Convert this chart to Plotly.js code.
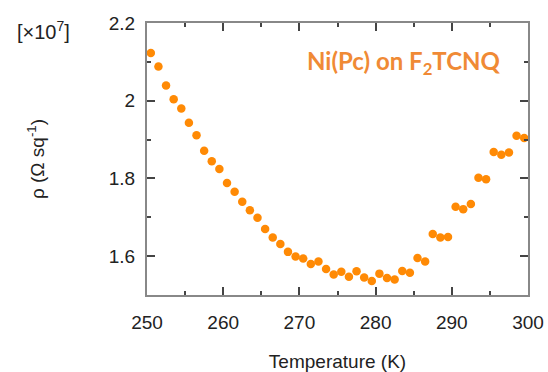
<!DOCTYPE html>
<html>
<head>
<meta charset="utf-8">
<script src="https://cdn.plot.ly/plotly-3.0.1.min.js"></script>
<style>html,body{margin:0;padding:0;background:#fff;}#chart{width:548px;height:372px;}</style>
</head>
<body>
<div id="chart"></div>
<script>
var temperature = [250.5,251.5,252.5,253.5,254.5,255.5,256.5,257.5,258.5,259.5,
  260.5,261.5,262.5,263.5,264.5,265.5,266.5,267.5,268.5,269.5,
  270.5,271.5,272.5,273.5,274.5,275.5,276.5,277.5,278.5,279.5,
  280.5,281.5,282.5,283.5,284.5,285.5,286.5,287.5,288.5,289.5,
  290.5,291.5,292.5,293.5,294.5,295.5,296.5,297.5,298.5,299.5];
var resistivity = [2.123,2.088,2.039,2.004,1.980,1.943,1.911,1.871,1.844,1.824,
  1.788,1.766,1.740,1.718,1.699,1.670,1.648,1.631,1.611,1.599,
  1.594,1.580,1.586,1.567,1.553,1.560,1.547,1.561,1.545,1.536,
  1.555,1.544,1.540,1.562,1.557,1.595,1.586,1.657,1.648,1.649,
  1.727,1.721,1.734,1.802,1.798,1.868,1.861,1.867,1.910,1.904];
var xTickVals = [250,260,270,280,290,300];
var yTickVals = [1.6,1.8,2.0,2.2];
var yTickText = ["1.6","1.8","2","2.2"];
var xRange = [250, 300];
var yRange = [1.5, 2.2];

var axisFont = {family: "Liberation Sans, Arial, sans-serif", size: 19, color: "#222"};
var titleFont = {family: "Liberation Sans, Arial, sans-serif", size: 19, color: "#222"};
var trace = {
  x: temperature, y: resistivity, type: "scatter", mode: "markers",
  marker: {color: "#FF8A05", size: 8.5}, hoverinfo: "none", cliponaxis: false
};
var labelTrace = {x: [], y: [], type: "scatter", mode: "markers", xaxis: "x2", yaxis: "y2", hoverinfo: "none", showlegend: false};
var layout = {
  width: 548, height: 372,
  margin: {l: 147, r: 20, t: 23, b: 77},
  paper_bgcolor: "#fff", plot_bgcolor: "#fff",
  showlegend: false,
  xaxis: {
    range: xRange, tickmode: "array", tickvals: xTickVals, ticks: "inside", ticklen: 8, tickwidth: 2,
    tickcolor: "#444", showline: true, linecolor: "#888", linewidth: 2, mirror: "allticks",
    showgrid: false, zeroline: false, showticklabels: false,
    minor: {tickmode: "linear", dtick: 5, tick0: 250, ticks: "inside", ticklen: 4, tickcolor: "#444", tickwidth: 2, showgrid: false}
  },
  yaxis: {
    range: yRange, tickmode: "array", tickvals: yTickVals, ticks: "inside", ticklen: 8, tickwidth: 2,
    tickcolor: "#444", showline: true, linecolor: "#888", linewidth: 2, mirror: "allticks",
    showgrid: false, zeroline: false, showticklabels: false,
    minor: {tickmode: "linear", dtick: 0.1, tick0: 1.5, ticks: "inside", ticklen: 4, tickcolor: "#444", tickwidth: 2, showgrid: false}
  },
  xaxis2: {
    overlaying: "x", anchor: "y2", side: "bottom", range: xRange, tickmode: "array", tickvals: xTickVals,
    ticks: "outside", ticklen: 10, tickcolor: "rgba(0,0,0,0)", showline: false, showgrid: false, zeroline: false,
    tickfont: axisFont,
    title: {text: "Temperature (K)", font: titleFont, standoff: 23}
  },
  yaxis2: {
    overlaying: "y", anchor: "x2", side: "left", range: yRange, tickmode: "array", tickvals: yTickVals, ticktext: yTickText,
    ticks: "outside", ticklen: 7, tickcolor: "rgba(0,0,0,0)", showline: false, showgrid: false, zeroline: false,
    tickfont: axisFont,
    title: {text: "ρ (Ω sq<sup>-1</sup>)", font: titleFont, standoff: 59}
  },
  annotations: [
    {text: "[×10<sup>7</sup>]", xref: "paper", yref: "paper", x: -0.346, y: 0.972, xanchor: "left", yanchor: "middle",
     showarrow: false, font: {family: "Liberation Sans, Arial, sans-serif", size: 20, color: "#222"}},
    {text: "<b>Ni(Pc) on F<sub>2</sub>TCNQ</b>", xref: "paper", yref: "paper", x: 0.935, y: 0.855, xanchor: "right", yanchor: "middle",
     showarrow: false, font: {family: "Lato, Open Sans, sans-serif", size: 24, color: "#F08A35"}}
  ]
};
Plotly.newPlot("chart", [trace, labelTrace], layout, {staticPlot: true, displayModeBar: false});
</script>
</body>
</html>
